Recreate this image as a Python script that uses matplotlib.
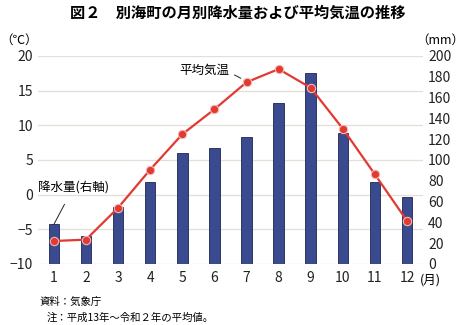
import matplotlib.pyplot as plt

plt.rcParams['font.family'] = ['Noto Sans CJK JP', 'DejaVu Sans']

months = list(range(1, 13))
month_labels = [str(m) for m in months]
precip_mm = [38, 27, 55, 79, 107, 111, 122, 155, 184, 126, 79, 64]
temp_c = [-6.7, -6.5, -1.9, 3.6, 8.7, 12.3, 16.2, 18.1, 15.4, 9.5, 2.9, -3.8]
temp_ticks = [-10, -5, 0, 5, 10, 15, 20]
precip_ticks = list(range(0, 201, 20))

fig = plt.figure(figsize=(4.67, 3.25), dpi=100)
ax = fig.add_axes([0.081, 0.188, 0.825, 0.64])
ax2 = ax.twinx()

# precipitation bars on the right axis
ax2.bar(months, precip_mm, width=0.33, color='#3a4a8e', edgecolor='#1e2550', linewidth=0.6, zorder=2)
ax2.set_ylim(0, 200)
ax2.set_yticks(precip_ticks)

# temperature line drawn above the bars
ax.set_zorder(ax2.get_zorder() + 1)
ax.patch.set_visible(False)
ax.plot(months, temp_c, color='#e03a32', linewidth=1.6, marker='o', markersize=6,
        markerfacecolor='#e03a32', markeredgecolor='#f4b8b0', markeredgewidth=0.8, zorder=3)
ax.set_ylim(-10, 20)
ax.set_yticks(temp_ticks)
ax.set_xlim(0.5, 12.5)
ax.set_xticks(months)
ax.set_xticklabels(month_labels)

for y in temp_ticks:
    ax2.axhline((y + 10) * 200 / 30, color='#e4dfd6', linewidth=0.9, zorder=1)

for a in (ax, ax2):
    for s in a.spines.values():
        s.set_visible(False)
    a.tick_params(length=0, labelsize=10, colors='#222222')
ax.tick_params(axis='x', pad=5)
ax.set_yticklabels(['\u221210', '\u22125', '0', '5', '10', '15', '20'])

# annotations
ax.annotate('平均気温', xy=(7, 16.2), xytext=(4.9, 17.9), fontsize=9,
            va='center', ha='left',
            arrowprops=dict(arrowstyle='-', color='#222222', lw=0.7,
                            connectionstyle='arc3,rad=-0.2', shrinkB=5))
ax.annotate('降水量(右軸)', xy=(1, -4.3), xytext=(0.5, 1.0), fontsize=9,
            va='center', ha='left',
            arrowprops=dict(arrowstyle='-', color='#222222', lw=0.7, shrinkA=6, shrinkB=0))

fig.text(0.51, 0.96, '図２　別海町の月別降水量および平均気温の推移', ha='center', va='center',
         fontsize=11, fontweight='bold')
fig.text(0.0, 0.877, '（℃）', ha='left', va='center', fontsize=9)
fig.text(0.995, 0.877, '（mm）', ha='right', va='center', fontsize=9)
fig.text(0.9, 0.138, '(月)', ha='left', va='center', fontsize=9)
fig.text(0.085, 0.07, '資料：気象庁', ha='left', va='center', fontsize=7.5)
fig.text(0.1, 0.022, '注：平成13年～令和２年の平均値。', ha='left', va='center', fontsize=7.5)

fig.savefig('out.png', dpi=100)
